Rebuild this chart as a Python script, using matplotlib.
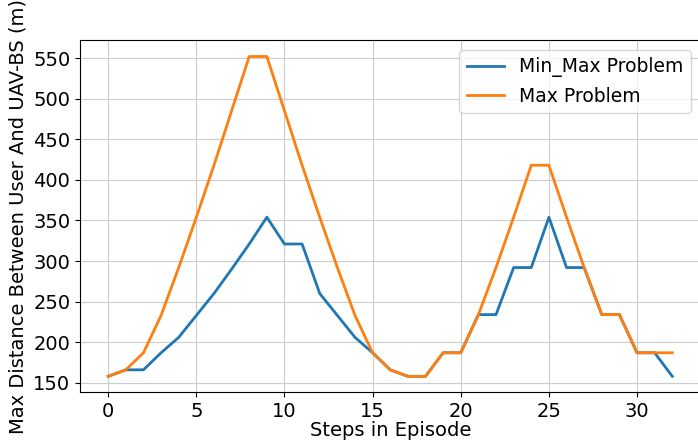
import numpy as np
import matplotlib.pyplot as plt

steps = np.arange(33)
min_max = [158, 166, 166, 187, 206, 233, 260, 290, 321, 354, 321, 321, 260,
           233, 206, 187, 166, 158, 158, 187, 187, 234, 234, 292, 292, 354,
           292, 292, 234, 234, 187, 187, 158]
max_only = [158, 166, 187, 233, 292, 354, 418, 485, 552, 552, 485, 418, 354,
            292, 233, 187, 166, 158, 158, 187, 187, 234, 292, 354, 418, 418,
            354, 292, 234, 234, 187, 187, 187]

fig = plt.figure(figsize=(6.98, 4.48), dpi=100)
ax = fig.add_axes([0.1146, 0.1243, 0.889, 0.7853])

ax.plot(steps, min_max, linewidth=2, label="Min_Max Problem")
ax.plot(steps, max_only, linewidth=2, label="Max Problem")

ax.set_xlabel("Steps in Episode", fontsize=14, labelpad=0)
ax.set_ylabel("Max Distance Between User And UAV-BS (m)", fontsize=14)
ax.tick_params(labelsize=14)
ax.set_yticks(np.arange(150, 551, 50))
ax.grid(True, color="#cccccc")
ax.legend(loc="upper right", fontsize=13.5)

fig.savefig("out.png", dpi=100)
